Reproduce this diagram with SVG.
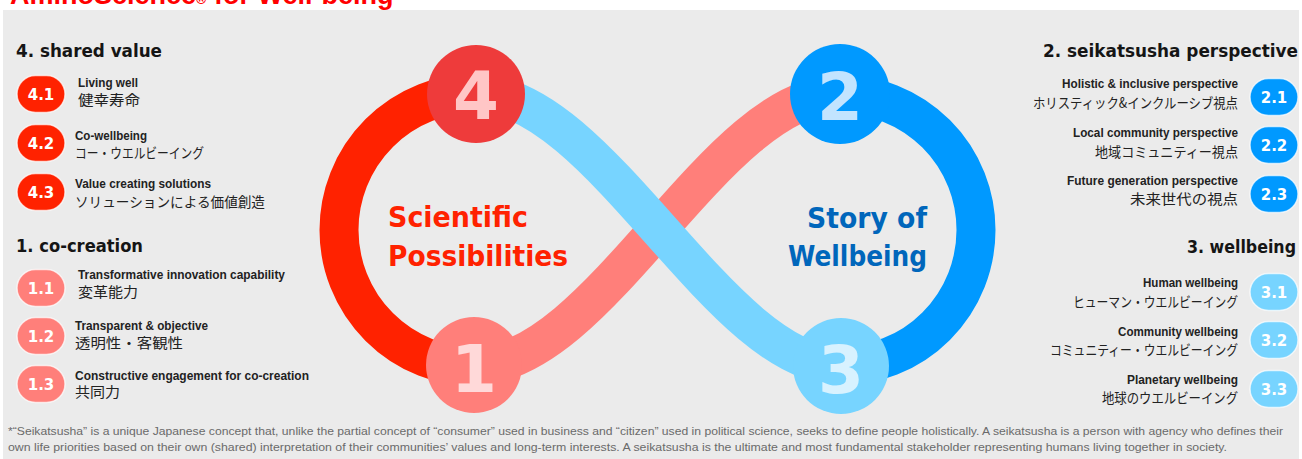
<svg xmlns="http://www.w3.org/2000/svg" width="1302" height="459" viewBox="0 0 1302 459">
<style>
.title{font-family:"Liberation Sans",Arial,sans-serif;font-weight:bold;font-size:27px;fill:#ff0000}
.h{font-family:"DejaVu Sans",sans-serif;font-weight:bold;font-size:18px;fill:#151515}
.en{font-family:"Liberation Sans",Arial,sans-serif;font-weight:bold;font-size:13px;fill:#222}
.jp{font-family:"Noto Sans CJK JP",sans-serif;font-size:14px;fill:#222}
.pt{font-family:"DejaVu Sans",sans-serif;font-weight:bold;font-size:15px;fill:#fff;text-anchor:middle}
.dig{font-family:"DejaVu Sans",sans-serif;font-weight:bold;font-size:66px;text-anchor:middle}
.ctr{font-family:"DejaVu Sans",sans-serif;font-weight:bold;font-size:28px}
.foot{font-family:"Liberation Sans",Arial,sans-serif;font-size:11px;fill:#6a6a6a}
.pill{stroke:#ffffff;stroke-opacity:0.7;stroke-width:1.5}
.band{fill:none;stroke-width:39}
.r{text-anchor:end}
</style>
<rect x="0" y="0" width="1302" height="459" fill="#ffffff"/>
<rect x="3" y="10" width="1296" height="449" fill="#ebebeb"/>
<text class="title" x="10" y="4">AminoScience<tspan font-size="14px">®</tspan> for Well-being</text>

<g id="connectors">
  <path class="band" stroke="#ff2200" d="M476 93 A137 137 0 0 0 476 367"/>
  <path class="band" stroke="#0099ff" d="M840 94 A136 136 0 0 1 840 366"/>
  <path class="band" stroke="#ff7f7a" d="M474 366 C600 366 715 94 840 94"/>
  <path class="band" stroke="#77d4ff" d="M476 93 C600 93 720 366 841 366"/>
</g>

<g id="node-4">
  <circle cx="476" cy="94" r="49" fill="#ee3b3b"/>
  <text class="dig" x="476" y="119" fill="#ffc6c6">4</text>
</g>
<g id="node-1">
  <circle cx="474" cy="365" r="48" fill="#ff7f7a"/>
  <text class="dig" x="474" y="392" fill="#ffd9d9">1</text>
</g>
<g id="node-2">
  <circle cx="840" cy="94" r="50" fill="#0099ff"/>
  <text class="dig" x="840" y="120" fill="#c2e4ff">2</text>
</g>
<g id="node-3">
  <circle cx="841" cy="366" r="48" fill="#77d4ff"/>
  <text class="dig" x="841" y="393" fill="#d8f2ff">3</text>
</g>

<g id="center-left">
  <text class="ctr" x="388" y="227" fill="#ff2200" textLength="140" lengthAdjust="spacingAndGlyphs">Scientific</text>
  <text class="ctr" x="388" y="266" fill="#ff2200" textLength="180" lengthAdjust="spacingAndGlyphs">Possibilities</text>
</g>
<g id="center-right">
  <text class="ctr r" x="927" y="228" fill="#0066bb" textLength="120" lengthAdjust="spacingAndGlyphs">Story of</text>
  <text class="ctr r" x="927" y="266" fill="#0066bb" textLength="139" lengthAdjust="spacingAndGlyphs">Wellbeing</text>
</g>

<g id="shared-value">
  <text class="h" x="16" y="57" textLength="146" lengthAdjust="spacingAndGlyphs">4. shared value</text>
  <g id="item-4-1">
    <rect class="pill" x="17" y="75.5" width="48" height="37" rx="18.5" fill="#ff2200"/>
    <text class="pt" x="41" y="99.5">4.1</text>
    <text class="en" x="78" y="87" textLength="60" lengthAdjust="spacingAndGlyphs">Living well</text>
    <text class="jp" x="78" y="105" textLength="62" lengthAdjust="spacingAndGlyphs">健幸寿命</text>
  </g>
  <g id="item-4-2">
    <rect class="pill" x="17" y="124.5" width="48" height="37" rx="18.5" fill="#ff2200"/>
    <text class="pt" x="41" y="148.5">4.2</text>
    <text class="en" x="75" y="140" textLength="72" lengthAdjust="spacingAndGlyphs">Co-wellbeing</text>
    <text class="jp" x="75" y="158" textLength="129" lengthAdjust="spacingAndGlyphs">コー・ウエルビーイング</text>
  </g>
  <g id="item-4-3">
    <rect class="pill" x="17" y="173.5" width="48" height="37" rx="18.5" fill="#ff2200"/>
    <text class="pt" x="41" y="197.5">4.3</text>
    <text class="en" x="75" y="188" textLength="136" lengthAdjust="spacingAndGlyphs">Value creating solutions</text>
    <text class="jp" x="75" y="207" textLength="190" lengthAdjust="spacingAndGlyphs">ソリューションによる価値創造</text>
  </g>
</g>

<g id="co-creation">
  <text class="h" x="16" y="252" textLength="127" lengthAdjust="spacingAndGlyphs">1. co-creation</text>
  <g id="item-1-1">
    <rect class="pill" x="17" y="269.5" width="48" height="37" rx="18.5" fill="#ff7f7a"/>
    <text class="pt" x="41" y="293.5">1.1</text>
    <text class="en" x="78" y="279" textLength="207" lengthAdjust="spacingAndGlyphs">Transformative innovation capability</text>
    <text class="jp" x="78" y="297" textLength="60" lengthAdjust="spacingAndGlyphs">変革能力</text>
  </g>
  <g id="item-1-2">
    <rect class="pill" x="17" y="317.5" width="48" height="37" rx="18.5" fill="#ff7f7a"/>
    <text class="pt" x="41" y="341.5">1.2</text>
    <text class="en" x="75" y="330" textLength="133" lengthAdjust="spacingAndGlyphs">Transparent &amp; objective</text>
    <text class="jp" x="75" y="348" textLength="108" lengthAdjust="spacingAndGlyphs">透明性・客観性</text>
  </g>
  <g id="item-1-3">
    <rect class="pill" x="17" y="365.5" width="48" height="37" rx="18.5" fill="#ff7f7a"/>
    <text class="pt" x="41" y="389.5">1.3</text>
    <text class="en" x="75" y="380" textLength="234" lengthAdjust="spacingAndGlyphs">Constructive engagement for co-creation</text>
    <text class="jp" x="75" y="397" textLength="45" lengthAdjust="spacingAndGlyphs">共同力</text>
  </g>
</g>

<g id="seikatsusha-perspective">
  <text class="h r" x="1298" y="57" textLength="255" lengthAdjust="spacingAndGlyphs">2. seikatsusha perspective</text>
  <g id="item-2-1">
    <rect class="pill" x="1250" y="78.5" width="48" height="37" rx="18.5" fill="#0099ff"/>
    <text class="pt" x="1274" y="102.5">2.1</text>
    <text class="en r" x="1238" y="88" textLength="176" lengthAdjust="spacingAndGlyphs">Holistic &amp; inclusive perspective</text>
    <text class="jp r" x="1238" y="108" textLength="205" lengthAdjust="spacingAndGlyphs">ホリスティック&amp;インクルーシブ視点</text>
  </g>
  <g id="item-2-2">
    <rect class="pill" x="1250" y="126.5" width="48" height="37" rx="18.5" fill="#0099ff"/>
    <text class="pt" x="1274" y="150.5">2.2</text>
    <text class="en r" x="1238" y="137" textLength="165" lengthAdjust="spacingAndGlyphs">Local community perspective</text>
    <text class="jp r" x="1238" y="157" textLength="143" lengthAdjust="spacingAndGlyphs">地域コミュニティー視点</text>
  </g>
  <g id="item-2-3">
    <rect class="pill" x="1250" y="175.5" width="48" height="37" rx="18.5" fill="#0099ff"/>
    <text class="pt" x="1274" y="199.5">2.3</text>
    <text class="en r" x="1238" y="185" textLength="171" lengthAdjust="spacingAndGlyphs">Future generation perspective</text>
    <text class="jp r" x="1238" y="204" textLength="108" lengthAdjust="spacingAndGlyphs">未来世代の視点</text>
  </g>
</g>

<g id="wellbeing">
  <text class="h r" x="1296" y="253" textLength="109" lengthAdjust="spacingAndGlyphs">3. wellbeing</text>
  <g id="item-3-1">
    <rect class="pill" x="1250" y="273.5" width="48" height="37" rx="18.5" fill="#77d4ff"/>
    <text class="pt" x="1274" y="297.5">3.1</text>
    <text class="en r" x="1238" y="287" textLength="95" lengthAdjust="spacingAndGlyphs">Human wellbeing</text>
    <text class="jp r" x="1238" y="307" textLength="165" lengthAdjust="spacingAndGlyphs">ヒューマン・ウエルビーイング</text>
  </g>
  <g id="item-3-2">
    <rect class="pill" x="1250" y="321.5" width="48" height="37" rx="18.5" fill="#77d4ff"/>
    <text class="pt" x="1274" y="345.5">3.2</text>
    <text class="en r" x="1238" y="336" textLength="120" lengthAdjust="spacingAndGlyphs">Community wellbeing</text>
    <text class="jp r" x="1238" y="355" textLength="188" lengthAdjust="spacingAndGlyphs">コミュニティー・ウエルビーイング</text>
  </g>
  <g id="item-3-3">
    <rect class="pill" x="1250" y="370.5" width="48" height="37" rx="18.5" fill="#77d4ff"/>
    <text class="pt" x="1274" y="394.5">3.3</text>
    <text class="en r" x="1238" y="384" textLength="111" lengthAdjust="spacingAndGlyphs">Planetary wellbeing</text>
    <text class="jp r" x="1238" y="403" textLength="136" lengthAdjust="spacingAndGlyphs">地球のウエルビーイング</text>
  </g>
</g>

<g id="footnote">
  <text class="foot" x="8" y="435" textLength="1275" lengthAdjust="spacingAndGlyphs">*“Seikatsusha” is a unique Japanese concept that, unlike the partial concept of “consumer” used in business and “citizen” used in political science, seeks to define people holistically. A seikatsusha is a person with agency who defines their</text>
  <text class="foot" x="8" y="451" textLength="1219" lengthAdjust="spacingAndGlyphs">own life priorities based on their own (shared) interpretation of their communities’ values and long-term interests. A seikatsusha is the ultimate and most fundamental stakeholder representing humans living together in society.</text>
</g>
</svg>
